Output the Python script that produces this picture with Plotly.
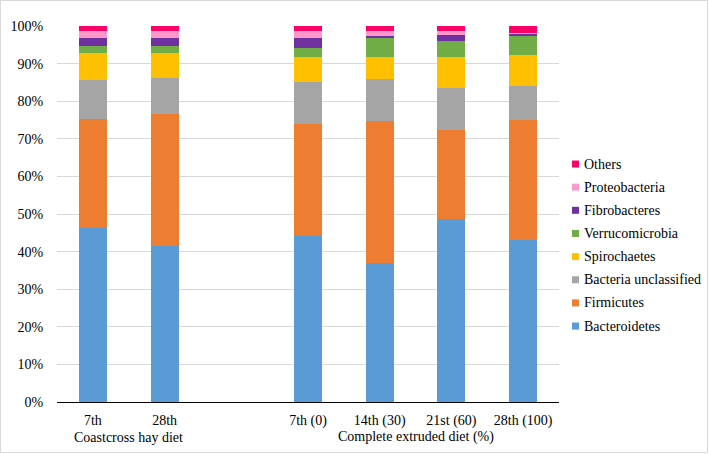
import plotly.graph_objects as go

categories = ["7th", "28th", " ", "7th (0)", "14th (30)", "21st (60)", "28th (100)"]
bar_categories = ["7th", "28th", "7th (0)", "14th (30)", "21st (60)", "28th (100)"]

bacteroidetes = [46.4, 41.4, 44.1, 36.9, 48.8, 43.2]
firmicutes = [28.8, 35.2, 29.8, 37.8, 23.6, 31.8]
bacteria_unclassified = [10.4, 9.7, 11.3, 11.2, 11.0, 9.0]
spirochaetes = [7.1, 6.6, 6.6, 5.9, 8.3, 8.2]
verrucomicrobia = [2.0, 1.9, 2.3, 5.1, 4.2, 5.4]
fibrobacteres = [2.2, 1.9, 2.6, 0.5, 1.6, 0.3]
proteobacteria = [1.8, 2.0, 2.0, 1.4, 1.3, 0.3]
others = [1.3, 1.3, 1.3, 1.2, 1.2, 1.8]

group_labels = ["Coastcross hay diet", "Complete extruded diet (%)"]

series = [
    ("Bacteroidetes", bacteroidetes, "#5B9BD5"),
    ("Firmicutes", firmicutes, "#ED7D31"),
    ("Bacteria unclassified", bacteria_unclassified, "#A5A5A5"),
    ("Spirochaetes", spirochaetes, "#FFC000"),
    ("Verrucomicrobia", verrucomicrobia, "#70AD47"),
    ("Fibrobacteres", fibrobacteres, "#7030A0"),
    ("Proteobacteria", proteobacteria, "#FF99CC"),
    ("Others", others, "#FF0066"),
]

FONT = "Liberation Serif"

fig = go.Figure()
for name, vals, col in series:
    fig.add_trace(go.Bar(
        x=bar_categories, y=vals, name=name,
        marker=dict(color=col, line=dict(width=0)),
        showlegend=False,
    ))

W, H = 709, 454
ml, mr, mt, mb = 57, 150, 26, 52
pw, ph = W - ml - mr, H - mt - mb

def px_x(x):
    return (x - ml) / pw

def px_y(y):
    return (H - mb - y) / ph

fig.update_layout(
    width=W, height=H,
    margin=dict(l=ml, r=mr, t=mt, b=mb, autoexpand=False),
    barmode="stack", bargap=0.61,
    plot_bgcolor="white", paper_bgcolor="white",
    font=dict(family=FONT, size=14, color="#000000"),
    showlegend=False,
    xaxis=dict(
        type="category", categoryorder="array", categoryarray=categories,
        range=[-0.5, 6.5], showgrid=False, showline=True,
        linecolor="#000000", linewidth=1,
        ticks="outside", ticklen=5, tickcolor="rgba(0,0,0,0)",
        tickfont=dict(family=FONT, size=14, color="#000000"),
        fixedrange=True,
    ),
    yaxis=dict(
        range=[0, 100], dtick=10, ticksuffix="%", showgrid=True,
        gridcolor="#D9D9D9", gridwidth=1, zeroline=False,
        showline=False, ticks="outside", ticklen=10,
        tickcolor="rgba(0,0,0,0)",
        tickfont=dict(family=FONT, size=14, color="#000000"),
    ),
)

# group labels
for xc, lab in ((0.5, group_labels[0]), (4.5, group_labels[1])):
    fig.add_annotation(x=xc, y=px_y(437), xref="x", yref="paper", text=lab,
                       showarrow=False, yanchor="middle",
                       font=dict(family=FONT, size=14, color="#000000"))

# manual legend (reversed order: Others on top)
leg_top, leg_step = 164, 23.15
for k, (name, vals, col) in enumerate(reversed(series)):
    yc = leg_top + k * leg_step
    fig.add_shape(type="rect", xref="paper", yref="paper",
                  x0=px_x(572), x1=px_x(579), y0=px_y(yc + 3.5), y1=px_y(yc - 3.5),
                  fillcolor=col, line=dict(width=0))
    fig.add_annotation(x=px_x(582), y=px_y(yc), xref="paper", yref="paper",
                       text=name, showarrow=False, xanchor="left", yanchor="middle",
                       font=dict(family=FONT, size=14, color="#000000"))

# outer frame
fig.add_shape(type="rect", xref="paper", yref="paper",
              x0=px_x(0.5), x1=px_x(W - 1.5),
              y0=px_y(H - 1.5), y1=px_y(0.5),
              line=dict(color="#D9D9D9", width=1), layer="below")

fig.write_html("out.html")
